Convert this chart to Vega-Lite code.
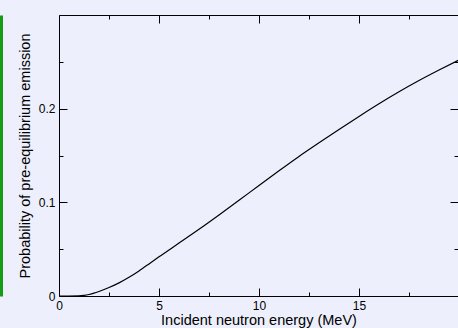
{
  "$schema": "https://vega.github.io/schema/vega-lite/v6.json",
  "autosize": "none",
  "width": 399,
  "height": 281,
  "padding": {"left": 59, "top": 15, "right": 0, "bottom": 32},
  "background": "#edf0fc",
  "config": {
    "view": {"stroke": null, "fill": "#edf0fc"},
    "font": "Liberation Sans",
    "axis": {"grid": false, "domainColor": "#000000", "domainWidth": 1, "tickColor": "#000000", "tickWidth": 1, "labelColor": "#000000", "titleColor": "#000000", "labelFont": "Liberation Sans", "titleFont": "Liberation Sans", "labelFontSize": 12, "titleFontSize": 14.5, "titleFontWeight": "normal"}
  },
  "data": {"values": [
    {"energy": 0, "prob": 0},
    {"energy": 0.5, "prob": 0},
    {"energy": 1.0, "prob": 0.0001},
    {"energy": 1.25, "prob": 0.0006},
    {"energy": 1.5, "prob": 0.0016},
    {"energy": 1.75, "prob": 0.003},
    {"energy": 2.0, "prob": 0.0048},
    {"energy": 2.5, "prob": 0.009},
    {"energy": 3.0, "prob": 0.014},
    {"energy": 3.5, "prob": 0.0200},
    {"energy": 4.0, "prob": 0.0268},
    {"energy": 4.5, "prob": 0.0342},
    {"energy": 5.0, "prob": 0.0418},
    {"energy": 6.0, "prob": 0.0565},
    {"energy": 7.0, "prob": 0.0712},
    {"energy": 8.0, "prob": 0.0865},
    {"energy": 9.0, "prob": 0.1022},
    {"energy": 10.0, "prob": 0.1180},
    {"energy": 11.0, "prob": 0.1337},
    {"energy": 12.0, "prob": 0.1490},
    {"energy": 13.0, "prob": 0.1635},
    {"energy": 14.0, "prob": 0.1778},
    {"energy": 15.0, "prob": 0.1917},
    {"energy": 16.0, "prob": 0.2052},
    {"energy": 17.0, "prob": 0.2180},
    {"energy": 18.0, "prob": 0.2300},
    {"energy": 19.0, "prob": 0.2412},
    {"energy": 20.0, "prob": 0.2520}
  ]},
  "resolve": {"axis": {"x": "independent", "y": "independent"}},
  "layer": [
    {
      "mark": {"type": "line", "color": "#000000", "strokeWidth": 1.2, "clip": true, "interpolate": "monotone"},
      "encoding": {
        "x": {"field": "energy", "type": "quantitative", "scale": {"domain": [0, 19.95], "nice": false, "zero": false},
              "axis": {"orient": "bottom", "values": [0, 2.5, 5, 7.5, 10, 12.5, 15, 17.5, 20], "format": "~g",
                       "tickSize": {"condition": {"test": "datum.value % 5 === 0", "value": -8}, "value": -4},
                       "labelExpr": "datum.value % 5 === 0 ? datum.label : ''",
                       "labelPadding": 12, "labelFlush": false, "labelOverlap": false, "title": "Incident neutron energy (MeV)", "titlePadding": -2}},
        "y": {"field": "prob", "type": "quantitative", "scale": {"domain": [0, 0.3], "nice": false},
              "axis": {"orient": "left", "values": [0, 0.05, 0.1, 0.15, 0.2, 0.25], "format": "~g",
                       "tickSize": {"condition": {"test": "round(datum.value * 100) % 10 === 0", "value": -8}, "value": -4},
                       "labelExpr": "round(datum.value * 100) % 10 === 0 ? datum.label : ''",
                       "labelPadding": 12, "labelFlush": false, "labelOverlap": false, "title": "Probability of pre-equilibrium emission", "titlePadding": 6}}
      }
    },
    {
      "mark": {"type": "line", "strokeOpacity": 0},
      "encoding": {
        "x": {"field": "energy", "type": "quantitative",
              "axis": {"orient": "top", "values": [0, 2.5, 5, 7.5, 10, 12.5, 15, 17.5, 20],
                       "tickSize": {"condition": {"test": "datum.value % 5 === 0", "value": -8}, "value": -4},
                       "labels": false, "domain": true, "title": null}},
        "y": {"field": "prob", "type": "quantitative",
              "axis": {"orient": "right", "values": [0, 0.05, 0.1, 0.15, 0.2, 0.25],
                       "tickSize": {"condition": {"test": "round(datum.value * 100) % 10 === 0", "value": -8}, "value": -4},
                       "labels": false, "domain": false, "title": null}}
      }
    },
    {
      "mark": {"type": "line", "strokeOpacity": 0},
      "encoding": {
        "y": {"field": "prob", "type": "quantitative",
              "axis": {"orient": "left", "offset": 58, "ticks": false, "labels": false, "domain": true, "domainColor": "#169b16", "domainWidth": 3, "title": null}}
      }
    }
  ]
}
